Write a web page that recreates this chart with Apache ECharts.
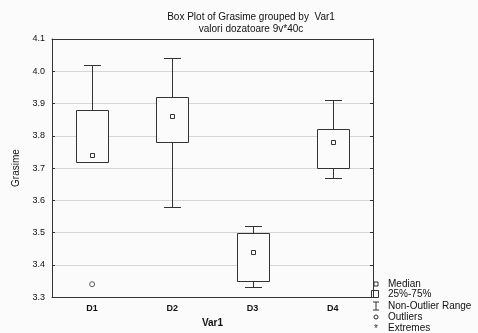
<!DOCTYPE html>
<html>
<head>
<meta charset="utf-8">
<script src="https://cdn.jsdelivr.net/npm/echarts@6/dist/echarts.min.js"></script>
<style>
html, body { margin: 0; padding: 0; background: #fbfbfb; }
#chart { width: 478px; height: 333px; }
</style>
</head>
<body>
<div id="chart"></div>
<script>
// values
var categories = ['D1', 'D2', 'D3', 'D4'];
var whiskerLow = [3.72, 3.58, 3.33, 3.67];
var q1 = [3.72, 3.78, 3.35, 3.70];
var medians = [3.74, 3.86, 3.44, 3.78];
var q3 = [3.88, 3.92, 3.50, 3.82];
var whiskerHigh = [4.02, 4.04, 3.52, 3.91];
var outliers = [['D1', 3.34]];
var legendItems = ['Median', '25%-75%', 'Non-Outlier Range', 'Outliers', 'Extremes'];

var FONT = '"Liberation Sans", Arial, sans-serif';
var BG = '#fbfbfb';
var INK = '#333';
var TXT = '#111';

var boxData = categories.map(function (c, i) {
  return [i, whiskerLow[i], q1[i], medians[i], q3[i], whiskerHigh[i]];
});

function px(v) { return Math.round(v) + 0.5; }

function renderBox(params, api) {
  var i = api.value(0);
  var band = api.size([1, 0])[0];
  var x = px(api.coord([i, 0])[0]);
  var yLo = px(api.coord([i, api.value(1)])[1]);
  var yQ1 = px(api.coord([i, api.value(2)])[1]);
  var yMed = px(api.coord([i, api.value(3)])[1]);
  var yQ3 = px(api.coord([i, api.value(4)])[1]);
  var yHi = px(api.coord([i, api.value(5)])[1]);
  var bw = Math.round(band * 0.4);
  var cw = Math.round(band * 0.21);
  var line = { stroke: INK, lineWidth: 1 };
  return {
    type: 'group',
    children: [
      { type: 'line', shape: { x1: x, y1: yHi, x2: x, y2: yQ3 }, style: line },
      { type: 'line', shape: { x1: x, y1: yQ1, x2: x, y2: yLo }, style: line },
      { type: 'line', shape: { x1: x - cw / 2, y1: yHi, x2: x + cw / 2, y2: yHi }, style: line },
      { type: 'line', shape: { x1: x - cw / 2, y1: yLo, x2: x + cw / 2, y2: yLo }, style: line },
      { type: 'rect', shape: { x: x - bw / 2, y: yQ3, width: bw, height: yQ1 - yQ3 },
        style: { fill: BG, stroke: INK, lineWidth: 1 } },
      { type: 'rect', shape: { x: x - 2, y: yMed - 2, width: 4, height: 4 },
        style: { fill: BG, stroke: INK, lineWidth: 1 } }
    ]
  };
}

// legend drawn by hand, like the STATISTICA key
var legendX = 376, legendTextX = 388;
var legendY = [284, 294, 306, 317, 328];
var keyStyle = { fill: BG, stroke: INK, lineWidth: 1 };
var graphics = [
  { type: 'rect', shape: { x: legendX - 2, y: legendY[0] - 2, width: 4, height: 4 }, style: keyStyle },
  { type: 'rect', shape: { x: legendX - 4.5, y: legendY[1] - 3.5, width: 7, height: 7 }, style: keyStyle },
  { type: 'polyline', shape: { points: [[legendX - 3, legendY[2] - 4], [legendX + 3, legendY[2] - 4]] }, style: keyStyle },
  { type: 'polyline', shape: { points: [[legendX, legendY[2] - 4], [legendX, legendY[2] + 4]] }, style: keyStyle },
  { type: 'polyline', shape: { points: [[legendX - 3, legendY[2] + 4], [legendX + 3, legendY[2] + 4]] }, style: keyStyle },
  { type: 'circle', shape: { cx: legendX, cy: legendY[3], r: 2 }, style: keyStyle },
  { type: 'text', x: legendX, y: legendY[4] + 1, style: { text: '*', fill: INK, fontSize: 10, fontFamily: FONT, align: 'center', verticalAlign: 'middle' } }
];
legendItems.forEach(function (t, i) {
  graphics.push({
    type: 'text', x: legendTextX, y: legendY[i],
    style: { text: t, fill: TXT, fontSize: 10, fontFamily: FONT, align: 'left', verticalAlign: 'middle' }
  });
});

var chart = echarts.init(document.getElementById('chart'));
chart.setOption({
  backgroundColor: BG,
  animation: false,
  textStyle: { fontFamily: FONT },
  title: [{
    text: 'Box Plot of Grasime grouped by  Var1',
    left: 246, top: 7, textAlign: 'center',
    textStyle: { fontSize: 10, fontWeight: 'normal', color: TXT, fontFamily: FONT }
  }, {
    text: 'valori dozatoare 9v*40c',
    left: 246, top: 19, textAlign: 'center',
    textStyle: { fontSize: 10, fontWeight: 'normal', color: TXT, fontFamily: FONT }
  }],
  grid: { left: 52, right: 105, top: 39, bottom: 32 },
  xAxis: [{
    type: 'category',
    data: categories,
    boundaryGap: true,
    name: 'Var1',
    nameLocation: 'middle',
    nameGap: 19,
    nameTextStyle: { fontSize: 10, fontWeight: 'bold', color: TXT },
    axisLine: { lineStyle: { color: INK } },
    axisTick: { inside: true, alignWithLabel: true, length: 3, lineStyle: { color: INK } },
    axisLabel: { fontSize: 9, fontWeight: 'bold', color: TXT, margin: 7 },
    splitLine: { show: false }
  }, {
    type: 'category',
    data: categories,
    position: 'top',
    boundaryGap: true,
    axisLine: { lineStyle: { color: INK } },
    axisTick: { inside: true, alignWithLabel: true, length: 3, lineStyle: { color: INK } },
    axisLabel: { show: false }
  }],
  yAxis: [{
    type: 'value',
    min: 3.3,
    max: 4.1,
    interval: 0.1,
    name: 'Grasime',
    nameLocation: 'middle',
    nameGap: 26,
    nameTextStyle: { fontSize: 10, color: TXT },
    axisLine: { show: true, lineStyle: { color: INK } },
    axisTick: { show: true, inside: true, length: 3, lineStyle: { color: INK } },
    axisLabel: { fontSize: 9, color: TXT, margin: 7, formatter: function (v) { return v.toFixed(1); } },
    splitLine: { show: true, lineStyle: { color: '#d6d6d6' } }
  }, {
    type: 'value',
    position: 'right',
    min: 3.3,
    max: 4.1,
    interval: 0.1,
    axisLine: { show: true, lineStyle: { color: INK } },
    axisTick: { show: true, inside: true, length: 3, lineStyle: { color: INK } },
    axisLabel: { show: false },
    splitLine: { show: false }
  }],
  series: [{
    type: 'custom',
    renderItem: renderBox,
    encode: { x: 0, y: [1, 2, 3, 4, 5] },
    data: boxData,
    z: 3
  }, {
    type: 'scatter',
    data: outliers,
    symbol: 'circle',
    symbolSize: 5,
    itemStyle: { color: BG, borderColor: INK, borderWidth: 1 },
    z: 4
  }],
  graphic: graphics
});
</script>
</body>
</html>
